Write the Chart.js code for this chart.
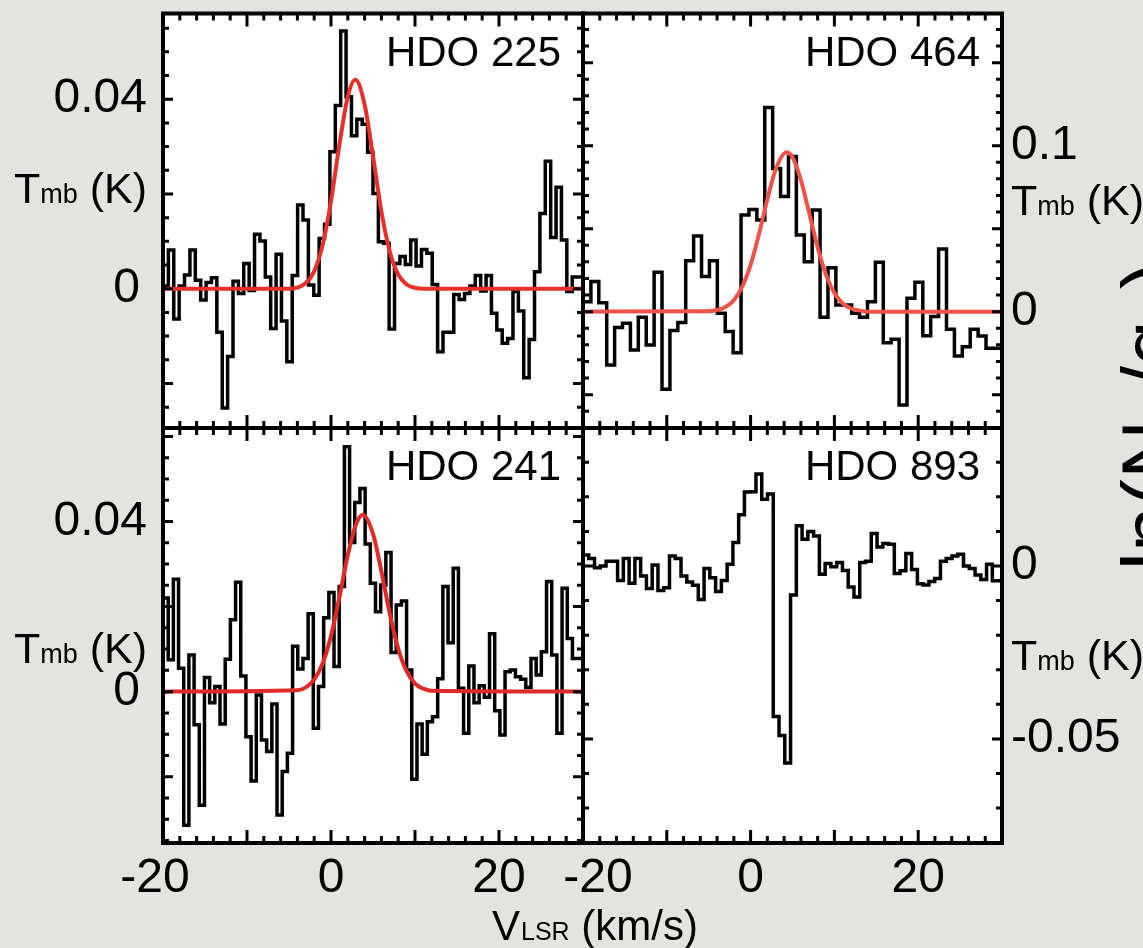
<!DOCTYPE html>
<html>
<head>
<meta charset="utf-8">
<title>HDO spectra</title>
<script src="https://cdn.jsdelivr.net/npm/chart.js@4.4.1/dist/chart.umd.min.js"></script>
<style>
  html, body { margin: 0; padding: 0; background: #e3e4e0; }
  #wrap { position: relative; width: 1143px; height: 948px; overflow: hidden; background: #e3e4e0; }
  #wrap canvas { position: absolute; left: 0; top: 0; }
</style>
</head>
<body>
<div id="wrap">
  <canvas id="c225" width="1143" height="948"></canvas>
  <canvas id="c464" width="1143" height="948"></canvas>
  <canvas id="c241" width="1143" height="948"></canvas>
  <canvas id="c893" width="1143" height="948"></canvas>
</div>
<script>
// --- data (Tmb in K, velocity in km/s) ---
const velStart = -20;
const dv225 = 0.641;
const dv464 = 0.943;
const dv241 = 0.617;
const dv893 = 0.688;

const tmb225 = [0.016, 0.0006, 0.0082, -0.0064, 0.0006, 0.0029, 0.0082, 0.0018, -0.0024, 0.0013,
  0.0023, -0.0092, -0.0252, -0.0143, 0.0016, -0.001, 0.0053, -0.0004, 0.0115, 0.0101,
  0.0025, -0.0084, 0.0073, -0.0068, -0.0154, 0.0028, 0.0177, 0.0145, 0.0008, -0.0014,
  0.0106, 0.0136, 0.0289, 0.0387, 0.0544, 0.0405, 0.0323, 0.0358, 0.0347, 0.0288,
  0.0201, 0.0099, 0.0096, -0.0085, 0.0053, 0.0068, 0.0051, 0.0103, 0.0048, 0.0083,
  0.0075, 0.0009, -0.0133, -0.0092, -0.0092, -0.0012, -0.0023, -0.001, 0.0006, 0.0028,
  -0.0005, 0.0028, -0.0052, -0.0087, -0.0115, -0.0105, -0.0006, -0.0047, -0.0188, -0.0107,
  0.0036, 0.0159, 0.0269, 0.0108, 0.0214, 0.0103, -0.0006, 0.0025];

const tmb464 = [-0.0050, 0.0060, 0.0181, 0.0054, -0.0321, -0.0096, -0.0070, -0.0231, -0.0034, -0.0201,
  0.0237, -0.0468, -0.0114, -0.0066, 0.0307, 0.0456, 0.0211, 0.0307, -0.0010, -0.0120,
  -0.0247, 0.0582, 0.0616, 0.0552, 0.1229, 0.0863, 0.0693, 0.0934, 0.0462, 0.0301,
  0.0612, -0.0034, 0.0265, 0.0040, 0.0040, -0.0010, -0.0034, 0.0060, 0.0297, -0.0187,
  -0.0167, -0.0562, 0.0080, 0.0177, -0.0145, -0.0030, 0.0378, -0.0106, -0.0267, -0.0211,
  -0.0106, -0.0147, -0.0221];

const tmb241 = [0.0200, 0.0220, 0.0075, 0.0264, 0.0055, -0.0314, 0.0086, -0.0078, -0.0267, 0.0033,
  -0.0026, 0.0012, -0.0076, 0.0076, 0.0169, 0.0257, 0.0037, -0.0106, -0.0210, -0.0008,
  -0.0114, -0.0141, -0.0029, -0.0290, -0.0188, -0.0145, 0.0107, 0.0053, 0.0078, 0.0183,
  -0.0086, 0.0012, 0.0174, 0.0233, 0.0059, 0.0247, 0.0576, 0.0351, 0.0445, 0.0478,
  0.0347, 0.0255, 0.0188, 0.0251, 0.0327, 0.0092, 0.0204, 0.0213, 0.0051, -0.0206,
  -0.0076, -0.0147, -0.0071, -0.0059, 0.0030, 0.0247, 0.0115, 0.0290, 0.0008, -0.0098,
  0.0060, -0.0026, 0.0014, -0.0013, 0.0136, -0.0045, -0.0102, 0.0047, 0.0051, 0.0035,
  0.0029, 0.0010, 0.0078, 0.0039, 0.0094, 0.0259, 0.0086, -0.0098, 0.0243, 0.0125,
  0.0078];

const tmb893 = [0.0071, 0.0032, 0.0022, -0.0005, 0.0000, 0.0014, 0.0014, -0.0042, 0.0022, -0.0050,
  0.0022, -0.0029, -0.0065, 0.0003, -0.0071, -0.0063, 0.0029, 0.0022, -0.0029, -0.0046,
  -0.0056, -0.0097, -0.0007, -0.0034, -0.0074, -0.0042, 0.0005, 0.0068, 0.0148, 0.0214,
  0.0215, 0.0266, 0.0193, 0.0208, -0.0435, -0.0490, -0.0570, -0.0084, 0.0116, 0.0077,
  0.0100, 0.0087, -0.0024, 0.0007, -0.0002, 0.0010, -0.0013, -0.0061, -0.0090, 0.0010,
  0.0014, 0.0094, 0.0055, 0.0065, 0.0063, -0.0022, -0.0014, 0.0036, -0.0010, -0.0051,
  -0.0055, -0.0045, -0.0036, 0.0014, 0.0022, 0.0029, 0.0034, 0.0000, -0.0007, -0.0026,
  -0.0039, 0.0005, -0.0043];

// gaussian fits (red)
const fitVel225 = [-20, -5, -3, -2, -1, 0, 1, 2, 2.9, 4, 5, 6, 7, 8, 9, 10, 11, 30];
const fitTmb225 = [0, 0, 0.0012, 0.0037, 0.0092, 0.0185, 0.0304, 0.0406, 0.0441, 0.0389, 0.0280, 0.0163, 0.0078, 0.0030, 0.0009, 0.0002, 0, 0];
const fitVel464 = [-20, -5, -4, -3, -2, -1, 0, 1, 2, 3, 4.3, 5, 6, 7, 8, 9, 10, 11, 12, 13, 14, 30];
const fitTmb464 = [0, 0.0003, 0.0010, 0.0028, 0.0069, 0.0150, 0.0282, 0.0467, 0.0677, 0.0858, 0.0960, 0.0930, 0.0793, 0.0592, 0.0388, 0.0222, 0.0112, 0.0049, 0.0019, 0.0006, 0, 0];
const fitVel241 = [-20, -4, -3, -2, -1, 0, 1, 2, 3, 3.8, 5, 6, 7, 8, 9, 10, 11, 12, 30];
const fitTmb241 = [0, 0.0003, 0.0010, 0.0028, 0.0066, 0.0131, 0.0222, 0.0321, 0.0395, 0.0416, 0.0371, 0.0283, 0.0183, 0.0101, 0.0048, 0.0019, 0.0007, 0.0002, 0];

// axes
const velRange = [-20, 30];
const xTickLabels = [-20, 0, 20];
const yRange225 = [-0.0294, 0.0581];
const yRange464 = [-0.0701, 0.1796];
const yRange241 = [-0.0356, 0.0620];
const yRange893 = [-0.0801, 0.0399];
const yTicks225 = [0.04, 0];
const yTicks464 = [0.1, 0];
const yTicks241 = [0.04, 0];
const yTicks893 = [0, -0.05];

const FONT = '"Liberation Sans", Arial, Helvetica, sans-serif';

// layout of each panel (frame in page pixels + decorations)
const panels = {
  c225: { title: 'HDO 225', box: [163, 13.5, 583, 428], yMajor: 0.02, yMinor: 0.005,
          ySide: 'left', yDx: [0, -7], tmb: [147, 203, 'right'], xLabels: false },
  c464: { title: 'HDO 464', box: [583, 13.5, 1002, 428], yMajor: 0.05, yMinor: 0.01,
          ySide: 'right', yDx: [0, 0], tmb: [1011, 215, 'left'], xLabels: false },
  c241: { title: 'HDO 241', box: [163, 428, 583, 843], yMajor: 0.02, yMinor: 0.005,
          ySide: 'left', yDx: [0, -7], tmb: [147, 663, 'right'], xLabels: true, xDx: [0, 0, 0] },
  c893: { title: 'HDO 893', box: [583, 428, 1002, 843], yMajor: 0.05, yMinor: 0.01,
          ySide: 'right', yDx: [0, 0], tmb: [1011, 670, 'left'], xLabels: true, xDx: [23, 0, 0] }
};

function tickValues(min, max, step) {
  const out = [];
  const k0 = Math.ceil(min / step - 1e-6);
  const k1 = Math.floor(max / step + 1e-6);
  for (let k = k0; k <= k1; k++) out.push(k * step);
  return out;
}

function isMultiple(v, step) {
  const r = v / step;
  return Math.abs(r - Math.round(r)) < 1e-6;
}

function drawTmb(ctx, x, y, align) {
  const big = '43px ' + FONT, small = '27px ' + FONT;
  ctx.font = big;
  const wT = ctx.measureText('T').width;
  const wK = ctx.measureText(' (K)').width;
  ctx.font = small;
  const wm = ctx.measureText('mb').width;
  const x0 = align === 'right' ? x - (wT + wm + wK) : x;
  ctx.textAlign = 'left';
  ctx.textBaseline = 'alphabetic';
  ctx.font = big;
  ctx.fillText('T', x0, y);
  ctx.font = small;
  ctx.fillText('mb', x0 + wT, y);
  ctx.font = big;
  ctx.fillText(' (K)', x0 + wT + wm, y);
}

function drawVlsr(ctx) {
  const big = '42px ' + FONT, small = '25px ' + FONT;
  let x = 492;
  const y = 940;
  ctx.textAlign = 'left';
  ctx.textBaseline = 'alphabetic';
  ctx.font = big;
  ctx.fillText('V', x, y);
  x += ctx.measureText('V').width + 1;
  ctx.font = small;
  ctx.fillText('LSR', x, y);
  x += ctx.measureText('LSR').width;
  ctx.font = big;
  ctx.fillText(' (km/s)', x, y);
}

// the partly hidden label at the right edge of the slide
function drawLnLabel(ctx) {
  ctx.save();
  ctx.translate(1179, 416);
  ctx.rotate(-Math.PI / 2);
  const big = '82px ' + FONT, small = '56px ' + FONT;
  const parts = [['ln(N', big, 0], ['u', small, 12], ['/g', big, 0], ['u', small, 12], [')', big, 0]];
  let total = 0;
  parts.forEach(p => { ctx.font = p[1]; total += ctx.measureText(p[0]).width; });
  let x = -total / 2;
  ctx.textAlign = 'left';
  ctx.textBaseline = 'alphabetic';
  parts.forEach(p => {
    ctx.font = p[1];
    ctx.fillText(p[0], x, p[2]);
    x += ctx.measureText(p[0]).width;
  });
  ctx.restore();
}

const panelFrame = {
  id: 'panelFrame',
  beforeDatasetsDraw(chart) {
    const a = chart.chartArea, ctx = chart.ctx;
    ctx.save();
    ctx.fillStyle = '#ffffff';
    ctx.fillRect(a.left, a.top, a.right - a.left, a.bottom - a.top);
    ctx.restore();
  },
  afterDatasetsDraw(chart) {
    const p = panels[chart.canvas.id];
    const a = chart.chartArea, ctx = chart.ctx;
    const xs = chart.scales.x, ys = chart.scales.y;
    ctx.save();
    ctx.strokeStyle = '#000';
    ctx.fillStyle = '#000';
    ctx.lineWidth = 3;
    ctx.lineCap = 'butt';
    // velocity ticks, bottom and top, pointing in
    tickValues(velRange[0], velRange[1], 2).forEach(v => {
      const len = isMultiple(v, 10) ? 13 : 7;
      const px = xs.getPixelForValue(v);
      ctx.beginPath();
      ctx.moveTo(px, a.bottom); ctx.lineTo(px, a.bottom - len);
      ctx.moveTo(px, a.top); ctx.lineTo(px, a.top + len);
      ctx.stroke();
    });
    // temperature ticks, left and right
    tickValues(ys.min, ys.max, p.yMinor).forEach(v => {
      const len = isMultiple(v, p.yMajor) ? 10 : 6;
      const py = ys.getPixelForValue(v);
      ctx.beginPath();
      ctx.moveTo(a.left, py); ctx.lineTo(a.left + len, py);
      ctx.moveTo(a.right, py); ctx.lineTo(a.right - len, py);
      ctx.stroke();
    });
    ctx.lineWidth = 4;
    ctx.strokeRect(a.left, a.top, a.right - a.left, a.bottom - a.top);

    // tick labels
    ctx.font = '48px ' + FONT;
    ctx.textBaseline = 'middle';
    p.yTicks.forEach((v, i) => {
      const py = ys.getPixelForValue(v);
      if (p.ySide === 'left') {
        ctx.textAlign = 'right';
        ctx.fillText(String(v), a.left - 16 + p.yDx[i], py);
      } else {
        ctx.textAlign = 'left';
        ctx.fillText(String(v), a.right + 9 + p.yDx[i], py);
      }
    });
    if (p.xLabels) {
      ctx.textBaseline = 'alphabetic';
      ctx.textAlign = 'left';
      xTickLabels.forEach((v, i) => {
        const txt = String(v);
        const digits = txt.replace('-', '');
        const wd = ctx.measureText(digits).width;
        const wm = ctx.measureText(txt).width - wd;
        const px = xs.getPixelForValue(v) + p.xDx[i];
        ctx.fillText(txt, px - wd / 2 - wm, a.bottom + 49);
      });
    }

    // panel name
    ctx.font = '42px ' + FONT;
    ctx.textAlign = 'right';
    ctx.textBaseline = 'alphabetic';
    ctx.fillText(p.title, a.right - 22, a.top + 52);

    drawTmb(ctx, p.tmb[0], p.tmb[1], p.tmb[2]);
    if (chart.canvas.id === 'c241') drawVlsr(ctx);
    if (chart.canvas.id === 'c464') drawLnLabel(ctx);
    ctx.restore();
  }
};

function stepPoints(v0, dv, vals) {
  const pts = vals.map((y, i) => ({ x: v0 + i * dv, y: y }));
  pts.push({ x: v0 + vals.length * dv, y: vals[vals.length - 1] });
  return pts;
}

function fitPoints(vel, tmb) {
  return vel.map((v, i) => ({ x: v, y: tmb[i] }));
}

function makePanel(id, spectrum, fit, yRange, yTicks, fitColor) {
  const p = panels[id];
  p.yTicks = yTicks;
  const datasets = [];
  if (fit) {
    datasets.push({
      data: fit,
      borderColor: fitColor,
      borderWidth: 4,
      pointRadius: 0,
      cubicInterpolationMode: 'monotone',
      fill: false
    });
  }
  datasets.push({
    data: spectrum,
    borderColor: '#000000',
    borderWidth: 3.5,
    pointRadius: 0,
    stepped: 'after',
    fill: false
  });
  return new Chart(document.getElementById(id), {
    type: 'line',
    data: { datasets: datasets },
    options: {
      responsive: false,
      animation: false,
      events: [],
      layout: {
        padding: { left: p.box[0], top: p.box[1], right: 1143 - p.box[2], bottom: 948 - p.box[3] }
      },
      scales: {
        x: { type: 'linear', min: velRange[0], max: velRange[1], display: false },
        y: { type: 'linear', min: yRange[0], max: yRange[1], display: false }
      },
      plugins: { legend: { display: false }, tooltip: { enabled: false } }
    },
    plugins: [panelFrame]
  });
}

makePanel('c225', stepPoints(velStart, dv225, tmb225), fitPoints(fitVel225, fitTmb225), yRange225, yTicks225, '#e8302a');
makePanel('c464', stepPoints(velStart, dv464, tmb464), fitPoints(fitVel464, fitTmb464), yRange464, yTicks464, '#ee5248');
makePanel('c241', stepPoints(velStart, dv241, tmb241), fitPoints(fitVel241, fitTmb241), yRange241, yTicks241, '#e02a26');
makePanel('c893', stepPoints(velStart, dv893, tmb893), null, yRange893, yTicks893, null);
</script>
</body>
</html>
